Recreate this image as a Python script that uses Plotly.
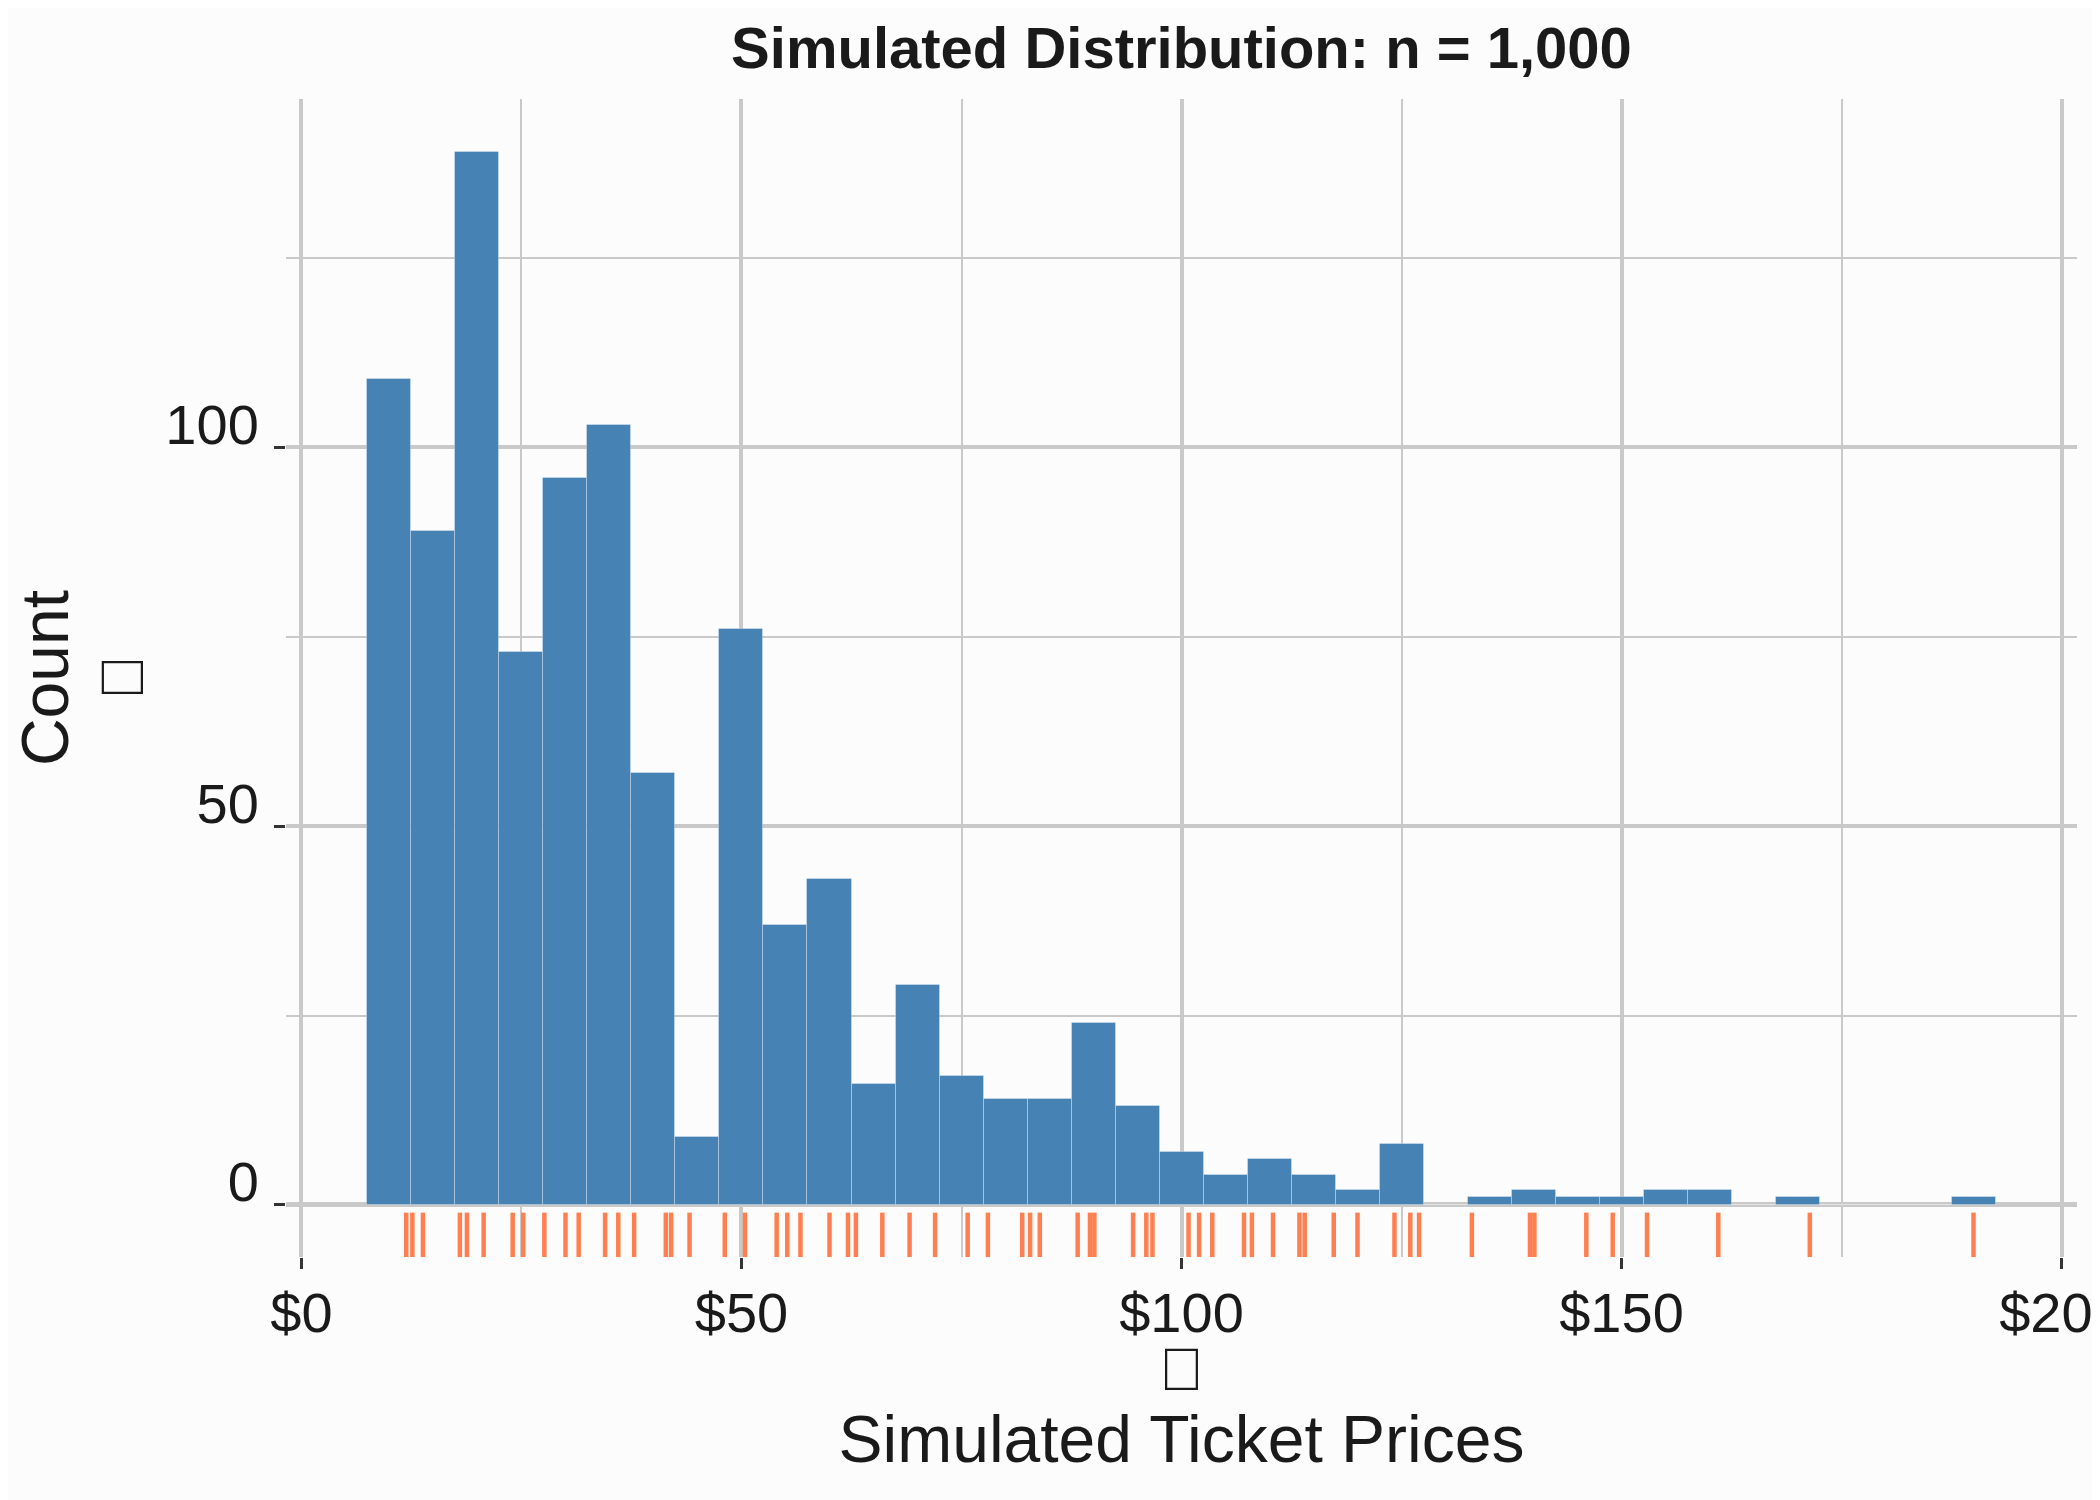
import plotly.graph_objects as go

# $5 histogram bins (centres) and their counts
bin_centers = [10, 15, 20, 25, 30, 35, 40, 45, 50, 55, 60, 65, 70, 75, 80, 85, 90, 95, 100,
               105, 110, 115, 120, 125, 130, 135, 140, 145, 150, 155, 160, 165, 170, 175,
               180, 185, 190]
counts = [109, 89, 139, 73, 96, 103, 57, 9, 76, 37, 43, 16, 29, 17, 14, 14, 24, 13, 7,
          4, 6, 4, 2, 8, 0, 1, 2, 1, 1, 2, 2, 0, 1, 0, 0, 0, 1]

# distinct simulated prices shown in the rug
rug_prices = [11.9, 12.6, 13.8, 18.0, 18.8, 20.7, 24.0, 25.2, 27.6, 30.0, 31.5, 34.5, 36.0,
              37.8, 41.4, 42.0, 44.1, 48.1, 50.4, 54.0, 55.2, 56.7, 60.0, 62.1, 63.0, 66.0,
              69.1, 72.0, 75.7, 78.0, 81.9, 82.8, 83.9, 88.2, 89.6, 90.1, 94.5, 96.0, 96.7,
              100.8, 102.0, 103.5, 107.1, 108.0, 110.4, 113.4, 114.0, 117.3, 120.0, 124.2,
              126.0, 127.0, 133.0, 139.6, 140.1, 146.0, 149.0, 152.9, 161.0, 171.4, 190.0]

x_ticks = [0, 50, 100, 150, 200]
x_labels = ["$0", "$50", "$100", "$150", "$200"]
y_ticks = [0, 50, 100]

FONT = "Liberation Sans, Arial, sans-serif"
INK = "#1a1a1a"
GRID = "#c9c9c9"
BG = "#fcfcfc"
MISSING = "\ue000"  # glyph the original font could not draw (shows as an empty box)

fig = go.Figure()

fig.add_trace(go.Bar(
    x=bin_centers,
    y=counts,
    width=5,
    marker=dict(color="#4682b4", line=dict(color="rgba(255,255,255,0.3)", width=1)),
    showlegend=False,
))

# rug along the bottom of the panel
fig.add_trace(go.Scatter(
    x=rug_prices,
    y=[-4.44] * len(rug_prices),
    mode="markers",
    marker=dict(symbol="line-ns", size=37, line=dict(color="#ff7f50", width=4.5)),
    showlegend=False,
))

# the page body adds 8px, so margins are trimmed by that amount on the top/left
fig.update_layout(
    width=2100,
    height=1500,
    margin=dict(l=278, r=31, t=91, b=251),
    paper_bgcolor=BG,
    plot_bgcolor=BG,
    bargap=0,
    font=dict(family=FONT, color=INK),
    title=dict(
        text="Simulated Distribution: n = 1,000",
        font=dict(size=58, weight=700, color=INK),
        x=0.5, xref="paper", xanchor="center",
        y=1 - 40 / 1500, yref="container", yanchor="middle",
    ),
)

fig.update_xaxes(
    range=[-1.76, 201.76],
    tickvals=x_ticks,
    ticktext=x_labels,
    ticks="outside", ticklen=11, tickwidth=3, tickcolor="#333333",
    tickfont=dict(size=56, color=INK),
    ticklabelstandoff=-4,
    ticklabeloverflow="allow",
    showgrid=True, gridcolor=GRID, gridwidth=4,
    zeroline=False, showline=False,
    minor=dict(dtick=25, tick0=0, showgrid=True, gridcolor=GRID, gridwidth=2.2, ticks=""),
    title=dict(text="Simulated Ticket Prices", font=dict(size=66, color=INK), standoff=72),
    automargin=False,
)

fig.update_yaxes(
    range=[-6.88, 146],
    tickvals=y_ticks,
    ticks="outside", ticklen=11, tickwidth=3, tickcolor="#333333",
    tickfont=dict(size=56, color=INK),
    ticklabelshift=-23,
    ticklabelstandoff=4,
    showgrid=True, gridcolor=GRID, gridwidth=4,
    zeroline=True, zerolinecolor=GRID, zerolinewidth=5,
    showline=False,
    minor=dict(dtick=25, tick0=0, showgrid=True, gridcolor=GRID, gridwidth=2.2, ticks=""),
    title=dict(text="Count", font=dict(size=66, color=INK), standoff=94),
    automargin=False,
)

# the empty glyph boxes that sit beside each axis title
fig.add_annotation(text=MISSING, xref="paper", yref="paper", x=0.5, y=-(1369.5 - 1257) / 1158,
                   xanchor="center", yanchor="middle", showarrow=False,
                   font=dict(family=FONT, size=60, color=INK))
fig.add_annotation(text=MISSING, xref="paper", yref="paper", x=-(286 - 122) / 1791, y=0.5,
                   xanchor="center", yanchor="middle", showarrow=False, textangle=-90,
                   font=dict(family=FONT, size=60, color=INK))

fig.write_html("out.html")
